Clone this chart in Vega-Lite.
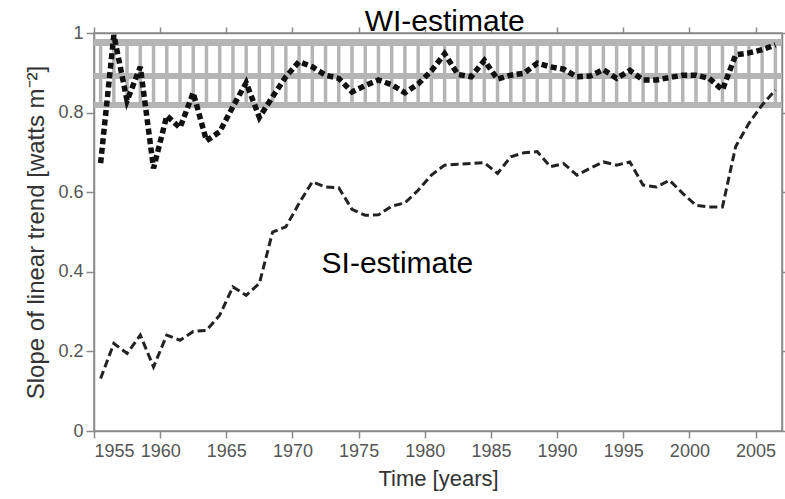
{
  "$schema": "https://vega.github.io/schema/vega-lite/v6.json",
  "width": 688,
  "height": 398,
  "autosize": "none",
  "padding": {"left": 94, "top": 33, "right": 3, "bottom": 68},
  "background": "white",
  "config": {
    "view": {"stroke": "#8a8a8a", "strokeWidth": 1.5},
    "axis": {"grid": false, "domainColor": "#8a8a8a", "tickColor": "#8a8a8a", "labelColor": "#555", "titleColor": "#333", "labelFont": "Liberation Sans", "titleFont": "Liberation Sans", "titleFontWeight": "normal", "domainWidth": 1.5, "tickWidth": 1.5}
  },
  "data": {"values": [
    {"year": 1955.5, "WI": 0.673, "SI": 0.132},
    {"year": 1956.5, "WI": 0.995, "SI": 0.22},
    {"year": 1957.5, "WI": 0.83, "SI": 0.195},
    {"year": 1958.5, "WI": 0.915, "SI": 0.241},
    {"year": 1959.5, "WI": 0.66, "SI": 0.161},
    {"year": 1960.5, "WI": 0.792, "SI": 0.241},
    {"year": 1961.5, "WI": 0.762, "SI": 0.228},
    {"year": 1962.5, "WI": 0.85, "SI": 0.25},
    {"year": 1963.5, "WI": 0.729, "SI": 0.253},
    {"year": 1964.5, "WI": 0.752, "SI": 0.291},
    {"year": 1965.5, "WI": 0.815, "SI": 0.362},
    {"year": 1966.5, "WI": 0.875, "SI": 0.341},
    {"year": 1967.5, "WI": 0.788, "SI": 0.371},
    {"year": 1968.5, "WI": 0.84, "SI": 0.5},
    {"year": 1969.5, "WI": 0.89, "SI": 0.513},
    {"year": 1970.5, "WI": 0.928, "SI": 0.572},
    {"year": 1971.5, "WI": 0.915, "SI": 0.626},
    {"year": 1972.5, "WI": 0.894, "SI": 0.613},
    {"year": 1973.5, "WI": 0.886, "SI": 0.611},
    {"year": 1974.5, "WI": 0.852, "SI": 0.557},
    {"year": 1975.5, "WI": 0.868, "SI": 0.542},
    {"year": 1976.5, "WI": 0.882, "SI": 0.543},
    {"year": 1977.5, "WI": 0.87, "SI": 0.565},
    {"year": 1978.5, "WI": 0.85, "SI": 0.573},
    {"year": 1979.5, "WI": 0.872, "SI": 0.605},
    {"year": 1980.5, "WI": 0.905, "SI": 0.643},
    {"year": 1981.5, "WI": 0.948, "SI": 0.668},
    {"year": 1982.5, "WI": 0.896, "SI": 0.67},
    {"year": 1983.5, "WI": 0.89, "SI": 0.672},
    {"year": 1984.5, "WI": 0.931, "SI": 0.674},
    {"year": 1985.5, "WI": 0.884, "SI": 0.647},
    {"year": 1986.5, "WI": 0.894, "SI": 0.689},
    {"year": 1987.5, "WI": 0.899, "SI": 0.699},
    {"year": 1988.5, "WI": 0.924, "SI": 0.702},
    {"year": 1989.5, "WI": 0.915, "SI": 0.664},
    {"year": 1990.5, "WI": 0.909, "SI": 0.672},
    {"year": 1991.5, "WI": 0.89, "SI": 0.643},
    {"year": 1992.5, "WI": 0.892, "SI": 0.66},
    {"year": 1993.5, "WI": 0.908, "SI": 0.676},
    {"year": 1994.5, "WI": 0.886, "SI": 0.668},
    {"year": 1995.5, "WI": 0.906, "SI": 0.676},
    {"year": 1996.5, "WI": 0.882, "SI": 0.618},
    {"year": 1997.5, "WI": 0.882, "SI": 0.613},
    {"year": 1998.5, "WI": 0.888, "SI": 0.63},
    {"year": 1999.5, "WI": 0.894, "SI": 0.597},
    {"year": 2000.5, "WI": 0.894, "SI": 0.567},
    {"year": 2001.5, "WI": 0.886, "SI": 0.563},
    {"year": 2002.5, "WI": 0.857, "SI": 0.563},
    {"year": 2003.5, "WI": 0.945, "SI": 0.715},
    {"year": 2004.5, "WI": 0.95, "SI": 0.773},
    {"year": 2005.5, "WI": 0.958, "SI": 0.819},
    {"year": 2006.5, "WI": 0.97, "SI": 0.857}
  ]},
  "layer": [
    {
      "mark": {"type": "rule", "color": "#b5b5b5", "strokeWidth": 3.5},
      "encoding": {
        "x": {"field": "year", "type": "quantitative", "scale": {"domain": [1955, 2007], "nice": false, "zero": false},
          "axis": {"orient": "bottom", "values": [1955, 1960, 1965, 1970, 1975, 1980, 1985, 1990, 1995, 2000, 2005], "format": "d", "title": "Time [years]", "labelFontSize": 18, "tickSize": 7, "labelPadding": 4, "titleFontSize": 22, "titlePadding": 8}},
        "y": {"datum": 0.819, "type": "quantitative", "scale": {"domain": [0, 1], "nice": false},
          "axis": {"orient": "left", "values": [0, 0.2, 0.4, 0.6, 0.8, 1], "format": "~g", "title": "Slope of linear trend [watts m⁻²]", "labelFontSize": 18, "tickSize": 8, "labelPadding": 3, "titleFontSize": 24, "titlePadding": 9}},
        "y2": {"datum": 0.977}
      }
    },
    {
      "mark": {"type": "rule", "color": "#b5b5b5", "strokeWidth": 6},
      "encoding": {"y": {"datum": 0.977, "type": "quantitative", "axis": null}}
    },
    {
      "mark": {"type": "rule", "color": "#b5b5b5", "strokeWidth": 6},
      "encoding": {"y": {"datum": 0.892, "type": "quantitative", "axis": null}}
    },
    {
      "mark": {"type": "rule", "color": "#b5b5b5", "strokeWidth": 6},
      "encoding": {"y": {"datum": 0.819, "type": "quantitative", "axis": null}}
    },
    {
      "mark": {"type": "line", "color": "#222", "strokeWidth": 3, "strokeDash": [8, 4]},
      "encoding": {
        "x": {"field": "year", "type": "quantitative", "axis": null},
        "y": {"field": "SI", "type": "quantitative", "axis": null}
      }
    },
    {
      "mark": {"type": "line", "color": "#111", "strokeWidth": 5.5, "strokeDash": [6, 3.5]},
      "encoding": {
        "x": {"field": "year", "type": "quantitative",
          "axis": {"orient": "top", "values": [1955, 1960, 1965, 1970, 1975, 1980, 1985, 1990, 1995, 2000, 2005], "labels": false, "title": null, "tickSize": 6}},
        "y": {"field": "WI", "type": "quantitative",
          "axis": {"orient": "right", "values": [0, 0.2, 0.4, 0.6, 0.8, 1], "labels": false, "title": null, "tickSize": 3}}
      }
    },
    {
      "data": {"values": [
        {"label": "WI-estimate", "year": 1975.46, "value": 1.004},
        {"label": "SI-estimate", "year": 1972.2, "value": 0.3965}
      ]},
      "mark": {"type": "text", "align": "left", "baseline": "alphabetic", "font": "Liberation Sans", "fontSize": 30, "color": "#000"},
      "encoding": {
        "x": {"field": "year", "type": "quantitative", "axis": null},
        "y": {"field": "value", "type": "quantitative", "axis": null},
        "text": {"field": "label"}
      }
    }
  ],
  "resolve": {"axis": {"x": "independent", "y": "independent"}}
}
